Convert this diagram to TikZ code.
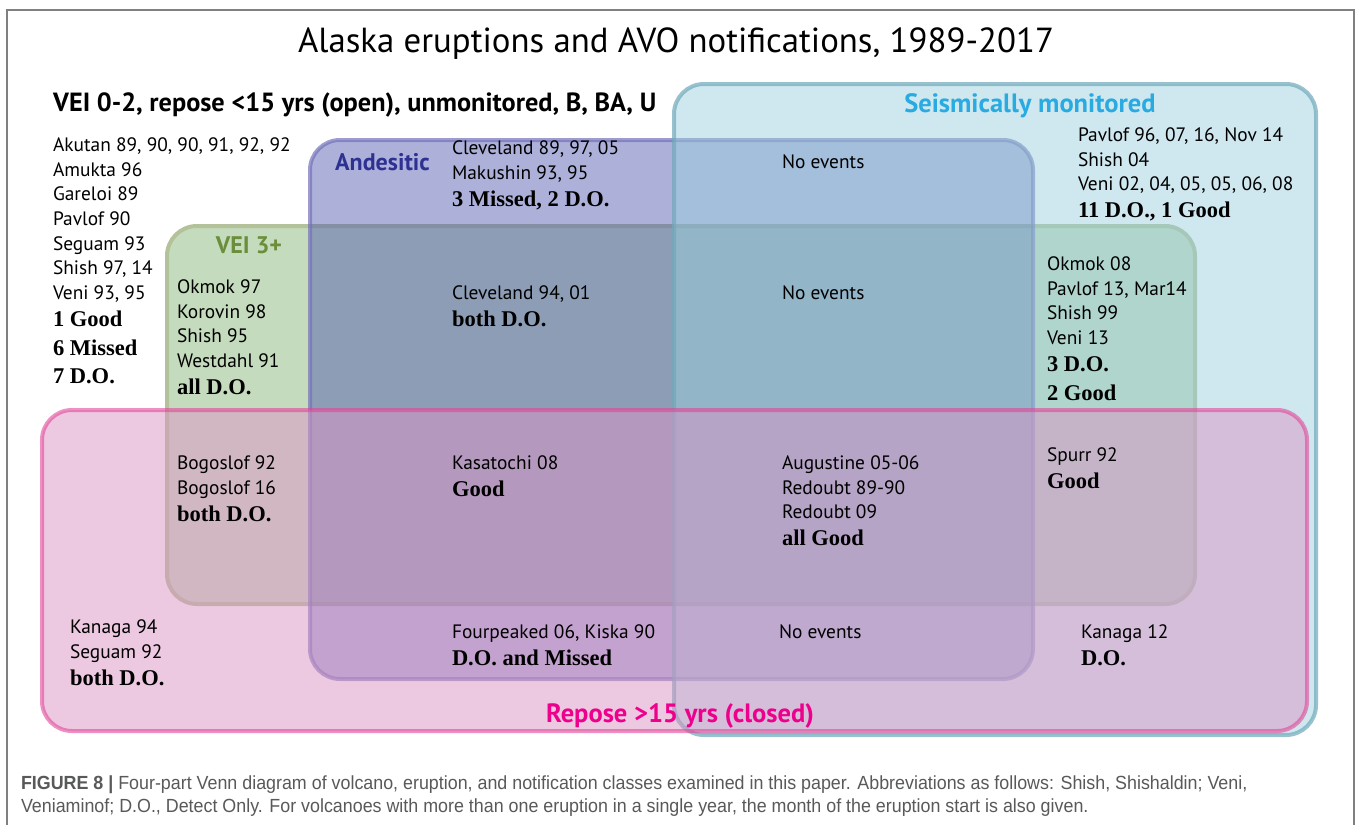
\documentclass[tikz,border=0pt]{standalone}
\usepackage{fontspec}
\setmainfont{Liberation Serif}
\setsansfont{PT Sans}
\newfontfamily\capfont{Liberation Sans}[FakeStretch=0.94]

\definecolor{veiFill}{HTML}{C5DBBD}
\definecolor{veiLine}{HTML}{B3C29A}
\definecolor{veiText}{HTML}{6B8E3A}
\definecolor{andFill}{RGB}{77,85,175}
\definecolor{andLine}{RGB}{116,114,185}
\definecolor{andText}{HTML}{2E3192}
\definecolor{seisFill}{RGB}{153,208,221}
\definecolor{seisLine}{RGB}{112,169,186}
\definecolor{seisText}{HTML}{29ABE2}
\definecolor{repFill}{RGB}{219,149,197}
\definecolor{repLine}{RGB}{226,65,150}
\definecolor{repText}{HTML}{EC008C}
\definecolor{capGray}{HTML}{58595B}

% Bold serif tally under each list.
\newcommand\outcome[1]{{\rmfamily\bfseries\fontsize{22.5}{27}\selectfont #1}}

\tikzset{
  % Shared values for the class boxes.
  globals/box line width/.initial=4pt,
  globals/corner radius/.initial=30pt,
%
  % For the rounded class boxes.
  class box/.style={
    line width=\pgfkeysvalueof{/tikz/globals/box line width},
    rounded corners=\pgfkeysvalueof{/tikz/globals/corner radius}},
%
  % One style per class.
  vei box/.style={
    class box,
    fill=veiFill,
    draw=veiLine},
  andesitic box/.style={
    class box,
    fill=andFill, fill opacity=0.46,
    draw=andLine, draw opacity=0.7},
  seismic box/.style={
    class box,
    fill=seisFill, fill opacity=0.47,
    draw=seisLine, draw opacity=0.7},
  repose box/.style={
    class box,
    fill=repFill, fill opacity=0.5,
    draw=repLine, draw opacity=0.58},
%
  % For lists of eruptions.
  entry/.style={
    anchor=north west,
    inner sep=0pt,
    outer sep=0pt,
    align=left,
    font=\sffamily\fontsize{19.4}{24.7}\selectfont},
%
  % For class names.
  class name/.style={
    anchor=base,
    inner sep=0pt,
    font=\sffamily\bfseries\fontsize{24}{28}\selectfont},
  big class name/.style={
    class name,
    font=\sffamily\bfseries\fontsize{26.5}{30}\selectfont},
%
  % For the outer frame of the figure.
  frame/.style={
    draw=black!50,
    line width=1.2pt}
}

\begin{document}
\begin{tikzpicture}[x=1pt,y=-1pt]
  \useasboundingbox (0,0) rectangle (1358,825);
  \fill[white] (0,0) rectangle (1358,825);
  \draw[frame] (7,825) |- (1354,10) -- (1354,825);

  % The four classes, bottom to top.
  \draw[vei box] (167,226) rectangle (1195,604);
  \draw[andesitic box] (310,140) rectangle (1033,679);
  \draw[seismic box] (674,84) rectangle (1316,735);
  \draw[repose box] (42,410) rectangle (1307,731);

  \node[anchor=base, inner sep=0pt, font=\sffamily\fontsize{34.8}{40}\selectfont]
    (title) at (676,52) {Alaska eruptions and AVO notifications, 1989-2017};
  \node[class name, anchor=base west, font=\sffamily\bfseries\fontsize{26.3}{30}\selectfont]
    (open) at (53,111) {VEI 0-2, repose <15 yrs (open), unmonitored, B, BA, U};
  \node[class name, anchor=base west, text=andText] (andesitic) at (335,170) {Andesitic};
  \node[big class name, text=seisText] (seismic) at (1030,112) {Seismically monitored};
  \node[class name, text=veiText] (vei) at (249,253) {VEI 3+};
  \node[big class name, text=repText] (repose) at (680,722) {Repose >15 yrs (closed)};

  % Upper row.
  \node[entry] (open list) at (53,137.5) {Akutan 89, 90, 90, 91, 92, 92\\ Amukta 96\\ Gareloi 89\\
    Pavlof 90\\ Seguam 93\\ Shish 97, 14\\ Veni 93, 95\\[2.5pt] \outcome{1 Good}\\[3.8pt]
    \outcome{6 Missed}\\[3.8pt] \outcome{7 D.O.}};
  \node[entry] (andesitic list) at (452,140.5) {Cleveland 89, 97, 05\\ Makushin 93, 95\\[2.5pt]
    \outcome{3 Missed, 2 D.O.}};
  \node[entry] (andesitic seismic) at (782,155) {No events};
  \node[entry] (seismic list) at (1078,127.5) {Pavlof 96, 07, 16, Nov 14\\ Shish 04\\
    Veni 02, 04, 05, 05, 06, 08\\[2.5pt] \outcome{11 D.O., 1 Good}};

  % Middle row.
  \node[entry] (vei list) at (177,279.5) {Okmok 97\\ Korovin 98\\ Shish 95\\ Westdahl 91\\[2.5pt]
    \outcome{all D.O.}};
  \node[entry] (vei andesitic) at (452,285.5) {Cleveland 94, 01\\[2.5pt] \outcome{both D.O.}};
  \node[entry] (vei andesitic seismic) at (782,286) {No events};
  \node[entry] (vei seismic) at (1047,256.5) {Okmok 08\\ Pavlof 13, Mar14\\ Shish 99\\ Veni 13\\[2.5pt]
    \outcome{3 D.O.}\\[3.8pt] \outcome{2 Good}};

  % Lower row.
  \node[entry] (repose vei) at (177,455.5) {Bogoslof 92\\ Bogoslof 16\\[2.5pt] \outcome{both D.O.}};
  \node[entry] (repose vei andesitic) at (452,455.5) {Kasatochi 08\\[2.5pt] \outcome{Good}};
  \node[entry] (repose all) at (782,455.5) {Augustine 05-06\\ Redoubt 89-90\\ Redoubt 09\\[2.5pt]
    \outcome{all Good}};
  \node[entry] (repose vei seismic) at (1047,447.5) {Spurr 92\\[2.5pt] \outcome{Good}};
  \node[entry] (repose list) at (70,619.5) {Kanaga 94\\ Seguam 92\\[2.5pt] \outcome{both D.O.}};
  \node[entry] (repose andesitic) at (452,624.5) {Fourpeaked 06, Kiska 90\\[2.5pt]
    \outcome{D.O. and Missed}};
  \node[entry] (repose andesitic seismic) at (779,625) {No events};
  \node[entry] (repose seismic) at (1081,624.5) {Kanaga 12\\[2.5pt] \outcome{D.O.}};

  \node[entry, text=capGray, font=\capfont\fontsize{19}{23}\selectfont] (caption) at (21,776)
    {\textbf{FIGURE 8 |} Four-part Venn diagram of volcano, eruption, and notification classes
     examined in this paper. Abbreviations as follows: Shish, Shishaldin; Veni,\\
     Veniaminof; D.O., Detect Only. For volcanoes with more than one eruption in a single year,
     the month of the eruption start is also given.};
\end{tikzpicture}
\end{document}
